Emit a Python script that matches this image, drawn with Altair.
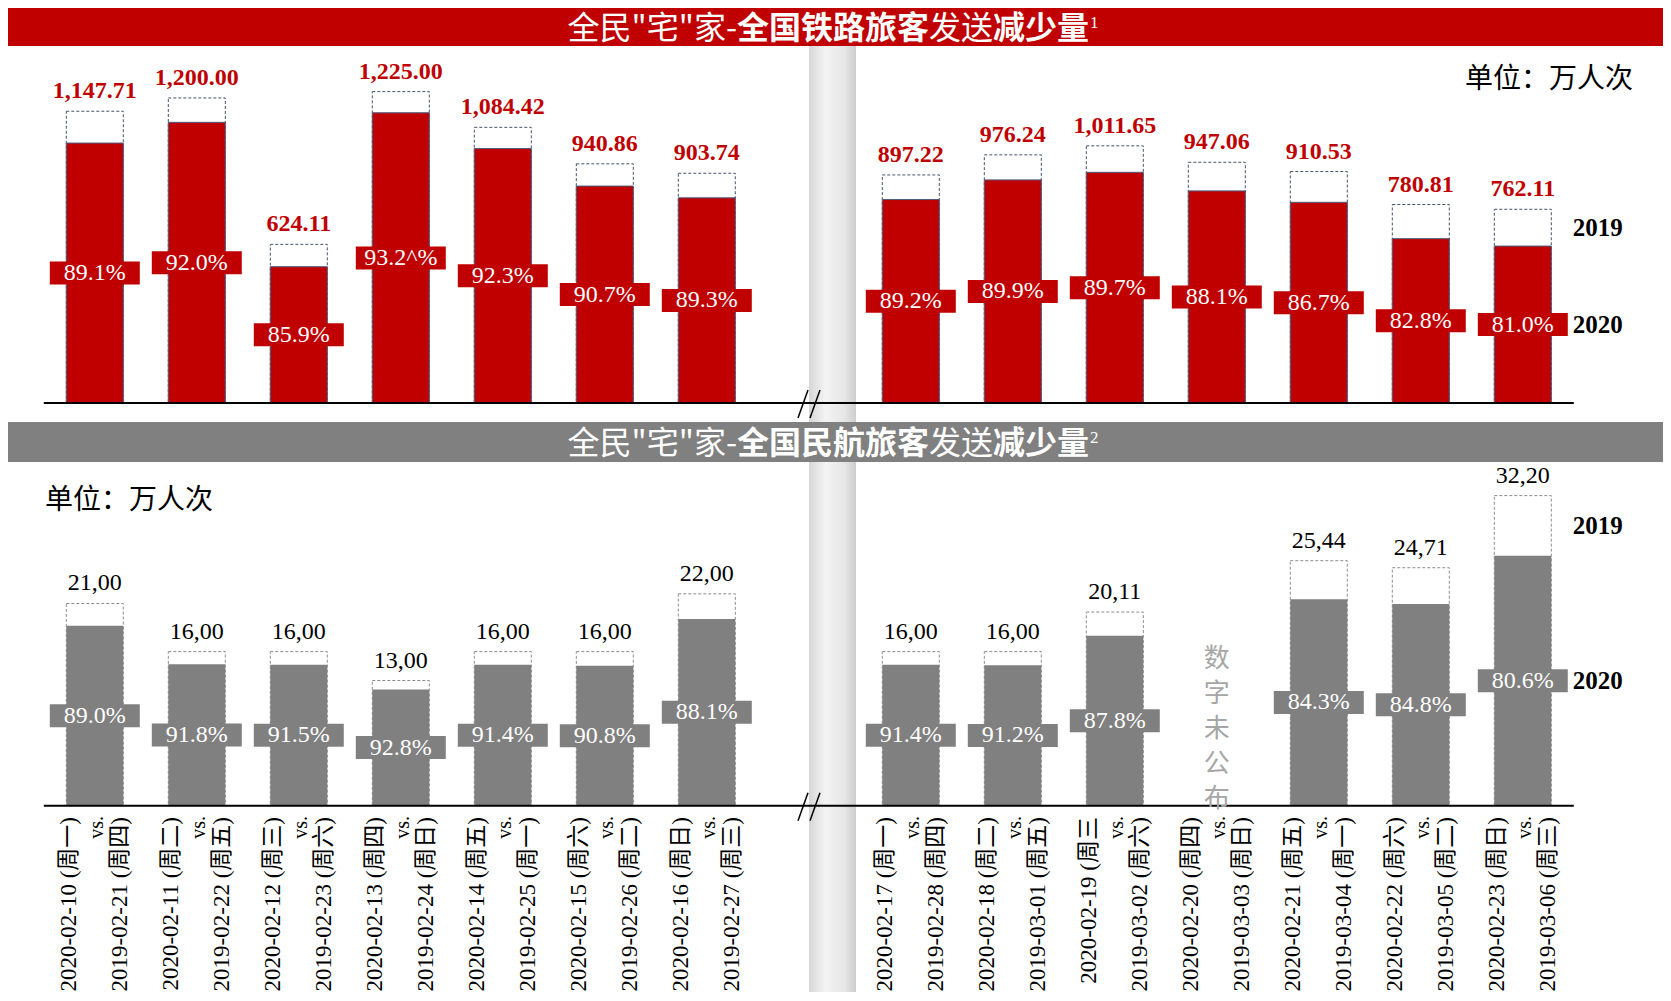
import altair as alt
import pandas as pd

SERIF = "Liberation Serif, Times New Roman, Noto Sans CJK SC, serif"
SANS = "Noto Sans CJK SC, Noto Sans, sans-serif"
RED = "#C00000"
GRAY = "#808080"

# ---------------- data ----------------
slots = [f"s{i:02d}" for i in range(15)]
gap_slot = "s07"
bar_slots = [s for s in slots if s != gap_slot]

rail_2019 = [1147.71, 1200.00, 624.11, 1225.00, 1084.42, 940.86, 903.74,
             897.22, 976.24, 1011.65, 947.06, 910.53, 780.81, 762.11]
rail_pct = [89.1, 92.0, 85.9, 93.2, 92.3, 90.7, 89.3,
            89.2, 89.9, 89.7, 88.1, 86.7, 82.8, 81.0]
rail_value_labels = ["1,147.71", "1,200.00", "624.11", "1,225.00", "1,084.42", "940.86", "903.74",
                     "897.22", "976.24", "1,011.65", "947.06", "910.53", "780.81", "762.11"]
rail_pct_labels = ["89.1%", "92.0%", "85.9%", "93.2^%", "92.3%", "90.7%", "89.3%",
                   "89.2%", "89.9%", "89.7%", "88.1%", "86.7%", "82.8%", "81.0%"]

air_2019 = [21.00, 16.00, 16.00, 13.00, 16.00, 16.00, 22.00,
            16.00, 16.00, 20.11, None, 25.44, 24.71, 32.20]
air_pct = [89.0, 91.8, 91.5, 92.8, 91.4, 90.8, 88.1,
           91.4, 91.2, 87.8, None, 84.3, 84.8, 80.6]
air_value_labels = ["21,00", "16,00", "16,00", "13,00", "16,00", "16,00", "22,00",
                    "16,00", "16,00", "20,11", "", "25,44", "24,71", "32,20"]
air_pct_labels = ["89.0%", "91.8%", "91.5%", "92.8%", "91.4%", "90.8%", "88.1%",
                  "91.4%", "91.2%", "87.8%", "", "84.3%", "84.8%", "80.6%"]

dates_2020 = ["2020-02-10 (周一)", "2020-02-11 (周二)", "2020-02-12 (周三)", "2020-02-13 (周四)",
              "2020-02-14 (周五)", "2020-02-15 (周六)", "2020-02-16 (周日)", "2020-02-17 (周一)",
              "2020-02-18 (周二)", "2020-02-19 (周三", "2020-02-20 (周四)", "2020-02-21 (周五)",
              "2020-02-22 (周六)", "2020-02-23 (周日)"]
dates_2019 = ["2019-02-21 (周四)", "2019-02-22 (周五)", "2019-02-23 (周六)", "2019-02-24 (周日)",
              "2019-02-25 (周一)", "2019-02-26 (周二)", "2019-02-27 (周三)", "2019-02-28 (周四)",
              "2019-03-01 (周五)", "2019-03-02 (周六)", "2019-03-03 (周日)", "2019-03-04 (周一)",
              "2019-03-05 (周二)", "2019-03-06 (周三)"]
missing_note = "数\n字\n未\n公\n布"

year_labels = ["2019", "2020"]


def frame(v, p, vl, pl):
    rows = []
    for s, a, b, c, d in zip(bar_slots, v, p, vl, pl):
        if a is None:
            continue
        rows.append(dict(slot=s, v2019=a, pct=b, vlabel=c, plabel=d))
    return pd.DataFrame(rows)


rail_df = frame(rail_2019, rail_pct, rail_value_labels, rail_pct_labels)
air_df = frame(air_2019, air_pct, air_value_labels, air_pct_labels)
date_df = pd.DataFrame(dict(slot=bar_slots, d2020=dates_2020, d2019=dates_2019))
one = pd.DataFrame({"k": [0]})
missing_df = pd.DataFrame({"slot": [bar_slots[10]], "note": [missing_note]})

W = 1655
H1 = 414
H2 = 570
X_RANGE = [35.8, 1565.8]
xenc = alt.X("slot:N", scale=alt.Scale(domain=slots, range=X_RANGE, paddingInner=0, paddingOuter=0), axis=None)

strip_fill = alt.LinearGradient(
    gradient="linear", x1=0, x2=1, y1=0, y2=0,
    stops=[alt.GradientStop(color="#d6d6d6", offset=0),
           alt.GradientStop(color="#f4f4f4", offset=0.35),
           alt.GradientStop(color="#e6e6e6", offset=0.75),
           alt.GradientStop(color="#cdcdcd", offset=1)])


def title_layers(word_b, sup, yc):
    f = 32
    x0 = 729
    base = dict(font=SANS, fontSize=f, color="white", baseline="middle")
    segs = [
        ('全民"宅"家-', x0, "right", "normal"),
        (word_b, x0, "left", "bold"),
        ("发送", x0 + 6 * f, "left", "normal"),
        ("减少量", x0 + 8 * f, "left", "bold"),
    ]
    out = []
    for t, x, al, wt in segs:
        out.append(alt.Chart(one).mark_text(align=al, fontWeight=wt, **base).encode(
            x=alt.value(x), y=alt.value(yc), text=alt.value(t)))
    out.append(alt.Chart(one).mark_text(align="left", font=SERIF, fontSize=17, color="white",
                                        baseline="middle").encode(
        x=alt.value(x0 + 11 * f + 1), y=alt.value(yc - 6), text=alt.value(sup)))
    return out


def panel(df, ydom, yrange, H, bar_color, band_top, band_color, word_b, sup,
          dash_color, bar_stroke, vlabel_color, vlabel_weight, unit_xy, base_y):
    yscale = alt.Scale(domain=ydom, range=yrange, nice=False, zero=False)
    calc = dict(fill="datum.v2019 * datum.pct / 100", mid="datum.v2019 * datum.pct / 200",
                y19="(datum.v2019 + datum.v2019 * datum.pct / 100) / 2")
    layers = []
    # header bar
    layers.append(alt.Chart(one).mark_rect(color=band_color).encode(
        x=alt.value(0), x2=alt.value(W), y=alt.value(0), y2=alt.value(band_top)))
    layers += title_layers(word_b, sup, band_top / 2 + 1.5)
    # fold strip
    layers.append(alt.Chart(one).mark_rect(fill=strip_fill).encode(
        x=alt.value(801), x2=alt.value(848), y=alt.value(band_top), y2=alt.value(H)))
    # 2019 dashed outline bars
    layers.append(alt.Chart(df).mark_bar(width=57, fill="white", stroke=dash_color,
                                         strokeDash=[3, 2], strokeWidth=1).encode(
        x=xenc, y=alt.Y("v2019:Q", scale=yscale, axis=None), y2=alt.datum(0)))
    # decrease bars
    bar_kw = dict(width=57, color=bar_color)
    if bar_stroke:
        bar_kw.update(stroke=bar_stroke, strokeWidth=1)
    layers.append(alt.Chart(df).transform_calculate(**calc).mark_bar(**bar_kw).encode(
        x=xenc, y=alt.Y("fill:Q", scale=yscale, axis=None), y2=alt.datum(0)))
    # baseline + break
    layers.append(alt.Chart(one).mark_rule(color="black", strokeWidth=2).encode(
        x=alt.value(X_RANGE[0]), x2=alt.value(X_RANGE[1]), y=alt.value(base_y)))
    for dx in (0, 12):
        layers.append(alt.Chart(one).mark_rule(color="black", strokeWidth=1.5).encode(
            x=alt.value(790 + dx), x2=alt.value(800 + dx),
            y=alt.value(base_y + 15), y2=alt.value(base_y - 13)))
    # percent boxes + text
    layers.append(alt.Chart(df).transform_calculate(**calc).mark_tick(
        size=90, thickness=23, color=bar_color, opacity=1).encode(
        x=xenc, y=alt.Y("mid:Q", scale=yscale, axis=None)))
    layers.append(alt.Chart(df).transform_calculate(**calc).mark_text(
        font=SERIF, fontSize=24, color="white", baseline="middle").encode(
        x=xenc, y=alt.Y("mid:Q", scale=yscale, axis=None), text="plabel:N"))
    # value labels
    layers.append(alt.Chart(df).mark_text(
        font=SERIF, fontSize=24, color=vlabel_color, fontWeight=vlabel_weight,
        baseline="bottom", dy=-8).encode(
        x=xenc, y=alt.Y("v2019:Q", scale=yscale, axis=None), text="vlabel:N"))
    # year legend
    last = alt.Chart(df).transform_filter(alt.datum.slot == slots[-1]).transform_calculate(**calc)
    layers.append(last.mark_text(font=SERIF, fontSize=25, fontWeight="bold", align="left",
                                 baseline="middle", dx=50, color="black").encode(
        x=xenc, y=alt.Y("y19:Q", scale=yscale, axis=None), text=alt.value(year_labels[0])))
    layers.append(last.mark_text(font=SERIF, fontSize=25, fontWeight="bold", align="left",
                                 baseline="middle", dx=50, color="black").encode(
        x=xenc, y=alt.Y("mid:Q", scale=yscale, axis=None), text=alt.value(year_labels[1])))
    # unit
    layers.append(alt.Chart(one).mark_text(font=SANS, fontSize=28, align="left",
                                           baseline="middle", color="black").encode(
        x=alt.value(unit_xy[0]), y=alt.value(unit_xy[1]), text=alt.value("单位：万人次")))
    return layers, yscale


top_layers, _ = panel(rail_df, [0, 1225], [395, 83.6], H1, RED, 38, RED, "全国铁路旅客", "1",
                      "#44546A", "#4A5C7E", RED, "bold", (1457, 72), 395)

bot_layers, yb = panel(air_df, [0, 32.2], [383.7, 73.6], H2, GRAY, 40, GRAY, "全国民航旅客", "2",
                       "#8C8C8C", None, "black", "normal", (37, 79), 383.7)

# missing data note (stacked vertically)
bot_layers.append(alt.Chart(missing_df).mark_text(
    font=SANS, fontSize=26, color="#A6A6A6", lineBreak="\n", lineHeight=35,
    baseline="middle").encode(x=xenc, y=alt.value(237), text="note:N"))
# date labels
lab = dict(font=SERIF, fontSize=23, angle=270, align="right", baseline="middle", color="black")
bot_layers.append(alt.Chart(date_df).mark_text(xOffset=-26, **lab).encode(
    x=xenc, y=alt.value(395), text="d2020:N"))
bot_layers.append(alt.Chart(date_df).mark_text(xOffset=25, **lab).encode(
    x=xenc, y=alt.value(395), text="d2019:N"))
bot_layers.append(alt.Chart(date_df).mark_text(xOffset=2, **{**lab, "fontSize": 20}).encode(
    x=xenc, y=alt.value(394), text=alt.value("vs.")))

top = alt.layer(*top_layers).properties(width=W, height=H1)
bottom = alt.layer(*bot_layers).properties(width=W, height=H2)

chart = alt.vconcat(top, bottom, spacing=0).properties(padding=0).configure_view(stroke=None)

chart.save("out.html", embed_options={"renderer": "svg", "actions": False})
